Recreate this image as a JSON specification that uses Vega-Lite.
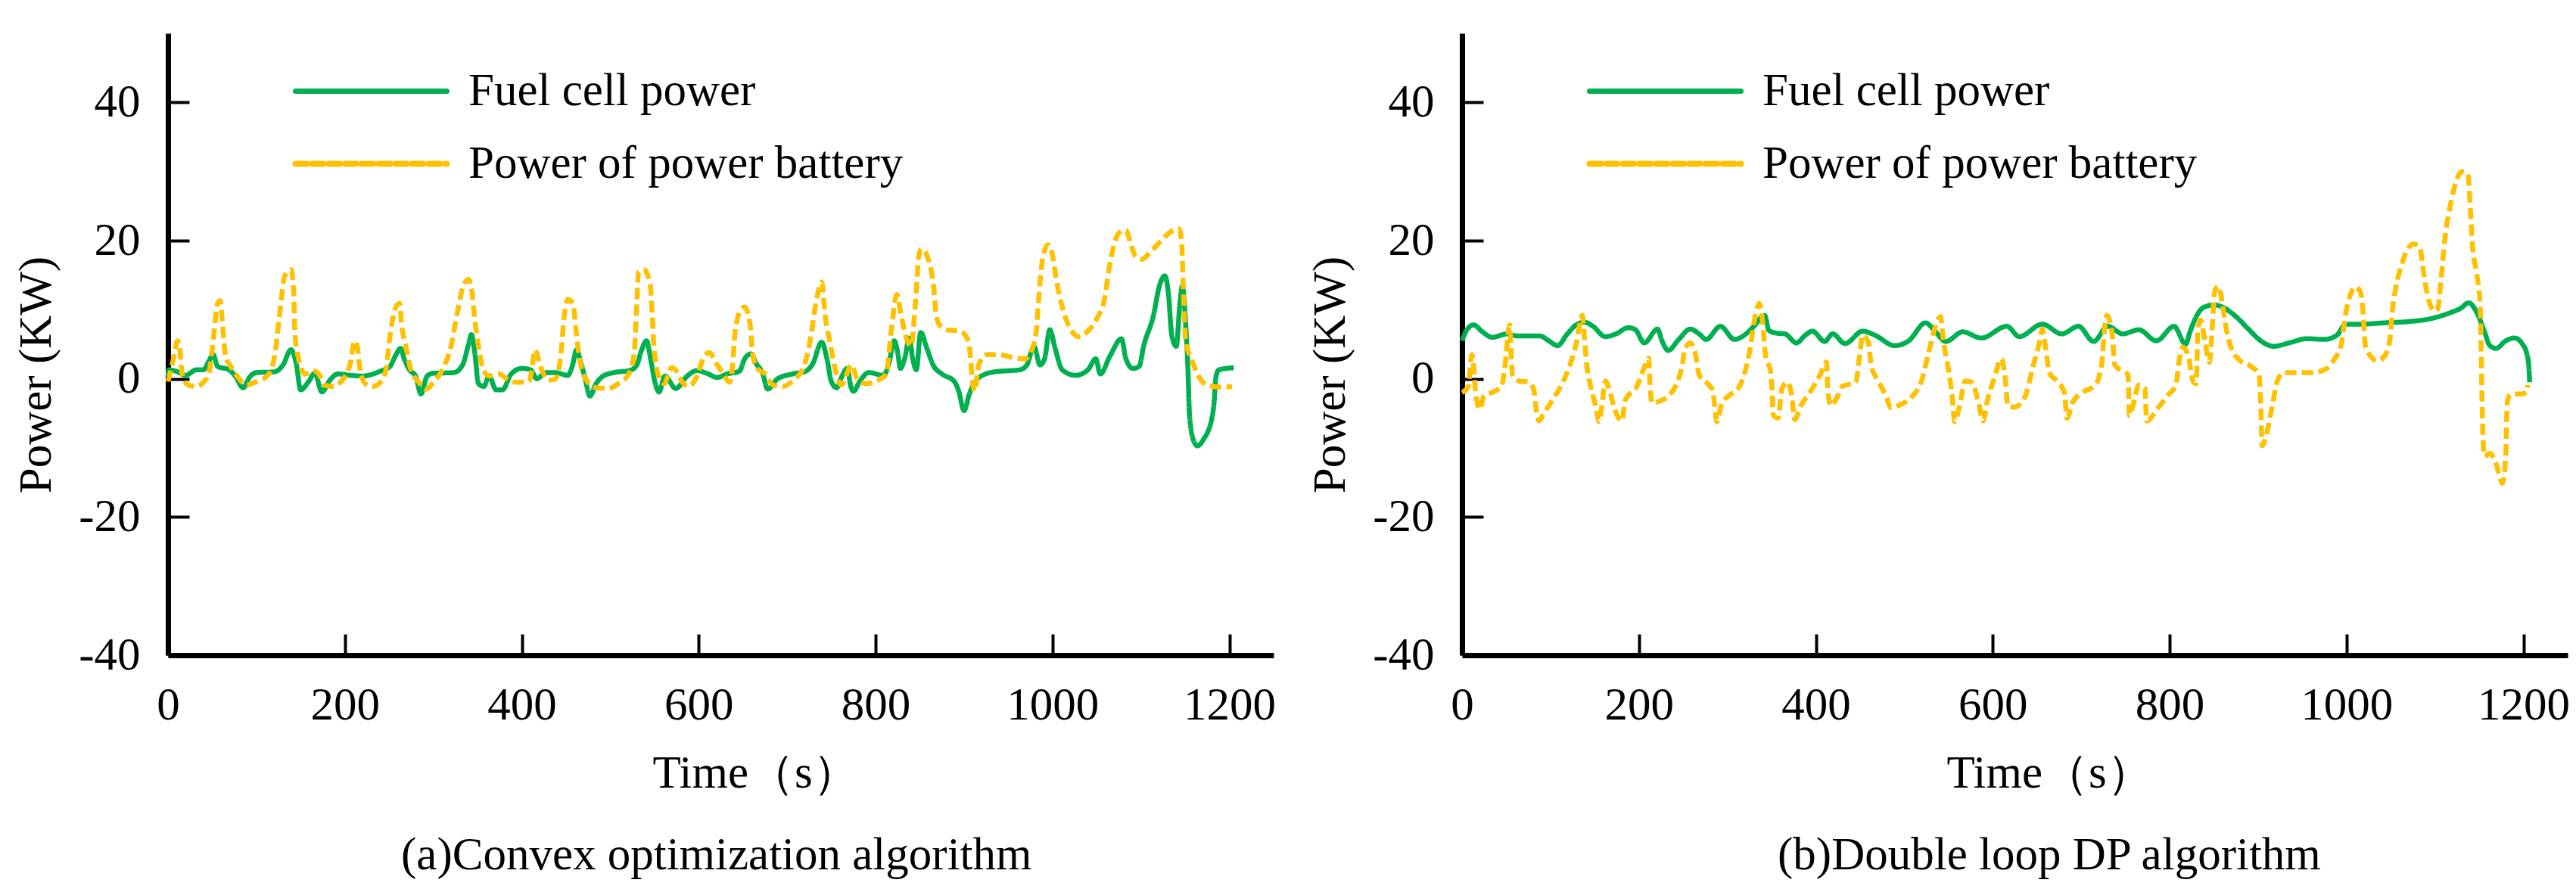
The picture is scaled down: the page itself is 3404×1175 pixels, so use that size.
{
  "$schema": "https://vega.github.io/schema/vega-lite/v6.json",
  "padding": {"left": 17, "top": 44, "right": 5, "bottom": 5},
  "background": "white",
  "spacing": 41,
  "datasets": {
    "a": [
      {"s": "Fuel cell power", "t": 0, "p": 0.4}, {"s": "Fuel cell power", "t": 1, "p": 1.3}, {"s": "Fuel cell power", "t": 9, "p": 1.1}, {"s": "Fuel cell power", "t": 20, "p": 0.5}, {"s": "Fuel cell power", "t": 32, "p": 1.3}, {"s": "Fuel cell power", "t": 40, "p": 1.3}, {"s": "Fuel cell power", "t": 46, "p": 2.5}, {"s": "Fuel cell power", "t": 51, "p": 3.5}, {"s": "Fuel cell power", "t": 56, "p": 1.8}, {"s": "Fuel cell power", "t": 69, "p": 1.3}, {"s": "Fuel cell power", "t": 76, "p": 0.4}, {"s": "Fuel cell power", "t": 85, "p": -1.3}, {"s": "Fuel cell power", "t": 92, "p": 0.2}, {"s": "Fuel cell power", "t": 100, "p": 0.9}, {"s": "Fuel cell power", "t": 120, "p": 1.0}, {"s": "Fuel cell power", "t": 130, "p": 2.0}, {"s": "Fuel cell power", "t": 139, "p": 4.2}, {"s": "Fuel cell power", "t": 145, "p": 2.2}, {"s": "Fuel cell power", "t": 150, "p": -1.6}, {"s": "Fuel cell power", "t": 159, "p": -0.4}, {"s": "Fuel cell power", "t": 166, "p": 0.8}, {"s": "Fuel cell power", "t": 174, "p": -1.9}, {"s": "Fuel cell power", "t": 183, "p": -0.2}, {"s": "Fuel cell power", "t": 192, "p": 0.7}, {"s": "Fuel cell power", "t": 206, "p": 0.5}, {"s": "Fuel cell power", "t": 220, "p": 0.4}, {"s": "Fuel cell power", "t": 240, "p": 1.1}, {"s": "Fuel cell power", "t": 251, "p": 1.8}, {"s": "Fuel cell power", "t": 257, "p": 3.3}, {"s": "Fuel cell power", "t": 263, "p": 4.4}, {"s": "Fuel cell power", "t": 267, "p": 2.9}, {"s": "Fuel cell power", "t": 273, "p": 1.3}, {"s": "Fuel cell power", "t": 280, "p": 0.4}, {"s": "Fuel cell power", "t": 286, "p": -2.2}, {"s": "Fuel cell power", "t": 293, "p": 0.4}, {"s": "Fuel cell power", "t": 300, "p": 0.8}, {"s": "Fuel cell power", "t": 323, "p": 0.9}, {"s": "Fuel cell power", "t": 333, "p": 2.0}, {"s": "Fuel cell power", "t": 340, "p": 5.1}, {"s": "Fuel cell power", "t": 343, "p": 6.4}, {"s": "Fuel cell power", "t": 347, "p": 3.6}, {"s": "Fuel cell power", "t": 351, "p": -0.7}, {"s": "Fuel cell power", "t": 357, "p": -1.1}, {"s": "Fuel cell power", "t": 363, "p": 0.4}, {"s": "Fuel cell power", "t": 371, "p": -1.6}, {"s": "Fuel cell power", "t": 378, "p": -1.6}, {"s": "Fuel cell power", "t": 388, "p": 0.7}, {"s": "Fuel cell power", "t": 400, "p": 1.5}, {"s": "Fuel cell power", "t": 410, "p": 1.3}, {"s": "Fuel cell power", "t": 417, "p": 0}, {"s": "Fuel cell power", "t": 427, "p": 0.9}, {"s": "Fuel cell power", "t": 438, "p": 0.9}, {"s": "Fuel cell power", "t": 452, "p": 0.5}, {"s": "Fuel cell power", "t": 457, "p": 1.8}, {"s": "Fuel cell power", "t": 462, "p": 4.2}, {"s": "Fuel cell power", "t": 467, "p": 2.2}, {"s": "Fuel cell power", "t": 471, "p": 0.4}, {"s": "Fuel cell power", "t": 477, "p": -2.5}, {"s": "Fuel cell power", "t": 484, "p": -0.7}, {"s": "Fuel cell power", "t": 492, "p": 0.4}, {"s": "Fuel cell power", "t": 504, "p": 0.9}, {"s": "Fuel cell power", "t": 522, "p": 1.2}, {"s": "Fuel cell power", "t": 530, "p": 2.0}, {"s": "Fuel cell power", "t": 535, "p": 4.0}, {"s": "Fuel cell power", "t": 541, "p": 5.5}, {"s": "Fuel cell power", "t": 546, "p": 2.6}, {"s": "Fuel cell power", "t": 551, "p": -0.7}, {"s": "Fuel cell power", "t": 555, "p": -1.9}, {"s": "Fuel cell power", "t": 562, "p": 0.4}, {"s": "Fuel cell power", "t": 574, "p": -1.4}, {"s": "Fuel cell power", "t": 587, "p": 0.4}, {"s": "Fuel cell power", "t": 598, "p": 1.2}, {"s": "Fuel cell power", "t": 609, "p": 0.8}, {"s": "Fuel cell power", "t": 621, "p": 0.2}, {"s": "Fuel cell power", "t": 632, "p": 0.7}, {"s": "Fuel cell power", "t": 646, "p": 1.1}, {"s": "Fuel cell power", "t": 652, "p": 2.9}, {"s": "Fuel cell power", "t": 659, "p": 3.6}, {"s": "Fuel cell power", "t": 665, "p": 2.2}, {"s": "Fuel cell power", "t": 672, "p": 0.9}, {"s": "Fuel cell power", "t": 678, "p": -1.5}, {"s": "Fuel cell power", "t": 689, "p": 0}, {"s": "Fuel cell power", "t": 706, "p": 0.7}, {"s": "Fuel cell power", "t": 721, "p": 1.1}, {"s": "Fuel cell power", "t": 729, "p": 2.2}, {"s": "Fuel cell power", "t": 739, "p": 5.3}, {"s": "Fuel cell power", "t": 745, "p": 2.9}, {"s": "Fuel cell power", "t": 750, "p": -0.4}, {"s": "Fuel cell power", "t": 756, "p": -1.3}, {"s": "Fuel cell power", "t": 762, "p": 0.4}, {"s": "Fuel cell power", "t": 768, "p": 1.5}, {"s": "Fuel cell power", "t": 772, "p": -1.1}, {"s": "Fuel cell power", "t": 775, "p": -1.8}, {"s": "Fuel cell power", "t": 782, "p": -0.4}, {"s": "Fuel cell power", "t": 792, "p": 0.9}, {"s": "Fuel cell power", "t": 809, "p": 0.5}, {"s": "Fuel cell power", "t": 815, "p": 2.2}, {"s": "Fuel cell power", "t": 821, "p": 5.5}, {"s": "Fuel cell power", "t": 825, "p": 3.8}, {"s": "Fuel cell power", "t": 828, "p": 1.5}, {"s": "Fuel cell power", "t": 833, "p": 3.0}, {"s": "Fuel cell power", "t": 838, "p": 5.9}, {"s": "Fuel cell power", "t": 842, "p": 2.9}, {"s": "Fuel cell power", "t": 846, "p": 1.3}, {"s": "Fuel cell power", "t": 851, "p": 6.7}, {"s": "Fuel cell power", "t": 858, "p": 4.4}, {"s": "Fuel cell power", "t": 865, "p": 2.0}, {"s": "Fuel cell power", "t": 875, "p": 0.7}, {"s": "Fuel cell power", "t": 889, "p": -0.4}, {"s": "Fuel cell power", "t": 894, "p": -1.8}, {"s": "Fuel cell power", "t": 900, "p": -4.6}, {"s": "Fuel cell power", "t": 906, "p": -2.2}, {"s": "Fuel cell power", "t": 917, "p": 0.2}, {"s": "Fuel cell power", "t": 934, "p": 1.0}, {"s": "Fuel cell power", "t": 963, "p": 1.3}, {"s": "Fuel cell power", "t": 971, "p": 2.0}, {"s": "Fuel cell power", "t": 979, "p": 4.7}, {"s": "Fuel cell power", "t": 986, "p": 2.0}, {"s": "Fuel cell power", "t": 991, "p": 2.9}, {"s": "Fuel cell power", "t": 997, "p": 7.1}, {"s": "Fuel cell power", "t": 1003, "p": 4.4}, {"s": "Fuel cell power", "t": 1011, "p": 1.3}, {"s": "Fuel cell power", "t": 1026, "p": 0.5}, {"s": "Fuel cell power", "t": 1040, "p": 1.3}, {"s": "Fuel cell power", "t": 1049, "p": 2.9}, {"s": "Fuel cell power", "t": 1054, "p": 0.7}, {"s": "Fuel cell power", "t": 1065, "p": 3.3}, {"s": "Fuel cell power", "t": 1078, "p": 5.8}, {"s": "Fuel cell power", "t": 1083, "p": 2.9}, {"s": "Fuel cell power", "t": 1091, "p": 1.5}, {"s": "Fuel cell power", "t": 1098, "p": 1.8}, {"s": "Fuel cell power", "t": 1103, "p": 4.7}, {"s": "Fuel cell power", "t": 1114, "p": 9.1}, {"s": "Fuel cell power", "t": 1121, "p": 13.5}, {"s": "Fuel cell power", "t": 1127, "p": 14.9}, {"s": "Fuel cell power", "t": 1131, "p": 12.4}, {"s": "Fuel cell power", "t": 1135, "p": 6.2}, {"s": "Fuel cell power", "t": 1140, "p": 4.7}, {"s": "Fuel cell power", "t": 1144, "p": 10.9}, {"s": "Fuel cell power", "t": 1147, "p": 13.5}, {"s": "Fuel cell power", "t": 1150, "p": 9.1}, {"s": "Fuel cell power", "t": 1153, "p": 1.8}, {"s": "Fuel cell power", "t": 1155, "p": -5.5}, {"s": "Fuel cell power", "t": 1160, "p": -9.1}, {"s": "Fuel cell power", "t": 1164, "p": -9.7}, {"s": "Fuel cell power", "t": 1171, "p": -8.7}, {"s": "Fuel cell power", "t": 1180, "p": -5.8}, {"s": "Fuel cell power", "t": 1183, "p": -2.9}, {"s": "Fuel cell power", "t": 1184.5, "p": 0}, {"s": "Fuel cell power", "t": 1188, "p": 1.3}, {"s": "Fuel cell power", "t": 1205, "p": 1.6},
      {"s": "Power of power battery", "t": 0, "p": -0.4}, {"s": "Power of power battery", "t": 5, "p": 2.2}, {"s": "Power of power battery", "t": 11, "p": 5.5}, {"s": "Power of power battery", "t": 13, "p": 4.7}, {"s": "Power of power battery", "t": 16, "p": 0.7}, {"s": "Power of power battery", "t": 23, "p": -0.9}, {"s": "Power of power battery", "t": 32, "p": -1.1}, {"s": "Power of power battery", "t": 40, "p": -0.5}, {"s": "Power of power battery", "t": 46, "p": 0.7}, {"s": "Power of power battery", "t": 52, "p": 6.6}, {"s": "Power of power battery", "t": 56, "p": 10.9}, {"s": "Power of power battery", "t": 59, "p": 11.3}, {"s": "Power of power battery", "t": 62, "p": 7.3}, {"s": "Power of power battery", "t": 65, "p": 3.3}, {"s": "Power of power battery", "t": 70, "p": 2.0}, {"s": "Power of power battery", "t": 78, "p": 0.4}, {"s": "Power of power battery", "t": 89, "p": -0.9}, {"s": "Power of power battery", "t": 98, "p": -0.5}, {"s": "Power of power battery", "t": 112, "p": 0.4}, {"s": "Power of power battery", "t": 120, "p": 2.9}, {"s": "Power of power battery", "t": 126, "p": 9.1}, {"s": "Power of power battery", "t": 132, "p": 14.9}, {"s": "Power of power battery", "t": 139, "p": 15.8}, {"s": "Power of power battery", "t": 142, "p": 12.8}, {"s": "Power of power battery", "t": 143.5, "p": 6.6}, {"s": "Power of power battery", "t": 147, "p": 3.3}, {"s": "Power of power battery", "t": 155, "p": 0.7}, {"s": "Power of power battery", "t": 166, "p": 1.1}, {"s": "Power of power battery", "t": 172, "p": 0.4}, {"s": "Power of power battery", "t": 177, "p": -0.9}, {"s": "Power of power battery", "t": 186, "p": -1.1}, {"s": "Power of power battery", "t": 197, "p": -0.2}, {"s": "Power of power battery", "t": 206, "p": 2.2}, {"s": "Power of power battery", "t": 211, "p": 5.5}, {"s": "Power of power battery", "t": 214, "p": 4.7}, {"s": "Power of power battery", "t": 217, "p": 1.5}, {"s": "Power of power battery", "t": 223, "p": -0.7}, {"s": "Power of power battery", "t": 232, "p": -1.1}, {"s": "Power of power battery", "t": 240, "p": -0.5}, {"s": "Power of power battery", "t": 246, "p": 1.1}, {"s": "Power of power battery", "t": 251, "p": 6.2}, {"s": "Power of power battery", "t": 257, "p": 10.2}, {"s": "Power of power battery", "t": 262, "p": 10.9}, {"s": "Power of power battery", "t": 264, "p": 8.0}, {"s": "Power of power battery", "t": 269, "p": 4.7}, {"s": "Power of power battery", "t": 274, "p": 1.6}, {"s": "Power of power battery", "t": 283, "p": -0.4}, {"s": "Power of power battery", "t": 292, "p": -1.5}, {"s": "Power of power battery", "t": 300, "p": -0.5}, {"s": "Power of power battery", "t": 311, "p": 1.5}, {"s": "Power of power battery", "t": 320, "p": 4.7}, {"s": "Power of power battery", "t": 327, "p": 9.5}, {"s": "Power of power battery", "t": 334, "p": 13.5}, {"s": "Power of power battery", "t": 340, "p": 14.4}, {"s": "Power of power battery", "t": 343, "p": 13.1}, {"s": "Power of power battery", "t": 347, "p": 8.4}, {"s": "Power of power battery", "t": 351, "p": 4.7}, {"s": "Power of power battery", "t": 356, "p": 1.5}, {"s": "Power of power battery", "t": 363, "p": 0.4}, {"s": "Power of power battery", "t": 374, "p": 0.7}, {"s": "Power of power battery", "t": 383, "p": 0}, {"s": "Power of power battery", "t": 394, "p": -0.5}, {"s": "Power of power battery", "t": 408, "p": -0.4}, {"s": "Power of power battery", "t": 411, "p": 1.0}, {"s": "Power of power battery", "t": 415, "p": 4.2}, {"s": "Power of power battery", "t": 421, "p": 1.8}, {"s": "Power of power battery", "t": 430, "p": -0.2}, {"s": "Power of power battery", "t": 438, "p": 0}, {"s": "Power of power battery", "t": 444, "p": 3.3}, {"s": "Power of power battery", "t": 448, "p": 9.1}, {"s": "Power of power battery", "t": 452, "p": 11.5}, {"s": "Power of power battery", "t": 458, "p": 10.9}, {"s": "Power of power battery", "t": 461, "p": 7.3}, {"s": "Power of power battery", "t": 464, "p": 4.0}, {"s": "Power of power battery", "t": 472, "p": 0}, {"s": "Power of power battery", "t": 484, "p": -1.3}, {"s": "Power of power battery", "t": 498, "p": -1.4}, {"s": "Power of power battery", "t": 509, "p": -0.7}, {"s": "Power of power battery", "t": 521, "p": 0.7}, {"s": "Power of power battery", "t": 527, "p": 3.6}, {"s": "Power of power battery", "t": 530, "p": 10.9}, {"s": "Power of power battery", "t": 532, "p": 15.5}, {"s": "Power of power battery", "t": 538, "p": 15.8}, {"s": "Power of power battery", "t": 545, "p": 13.8}, {"s": "Power of power battery", "t": 547.5, "p": 9.1}, {"s": "Power of power battery", "t": 549, "p": 5.5}, {"s": "Power of power battery", "t": 554, "p": 0.7}, {"s": "Power of power battery", "t": 561, "p": -0.7}, {"s": "Power of power battery", "t": 569, "p": 1.6}, {"s": "Power of power battery", "t": 575, "p": 1.1}, {"s": "Power of power battery", "t": 581, "p": -0.4}, {"s": "Power of power battery", "t": 589, "p": -1.1}, {"s": "Power of power battery", "t": 598, "p": 0.4}, {"s": "Power of power battery", "t": 605, "p": 2.9}, {"s": "Power of power battery", "t": 612, "p": 3.8}, {"s": "Power of power battery", "t": 621, "p": 2.0}, {"s": "Power of power battery", "t": 628, "p": 0.7}, {"s": "Power of power battery", "t": 635, "p": -0.5}, {"s": "Power of power battery", "t": 638, "p": 1.5}, {"s": "Power of power battery", "t": 641, "p": 6.6}, {"s": "Power of power battery", "t": 647, "p": 9.8}, {"s": "Power of power battery", "t": 652, "p": 10.4}, {"s": "Power of power battery", "t": 658, "p": 8.0}, {"s": "Power of power battery", "t": 661, "p": 3.6}, {"s": "Power of power battery", "t": 666, "p": 1.5}, {"s": "Power of power battery", "t": 675, "p": 0.7}, {"s": "Power of power battery", "t": 684, "p": -0.9}, {"s": "Power of power battery", "t": 695, "p": -1.1}, {"s": "Power of power battery", "t": 707, "p": -0.2}, {"s": "Power of power battery", "t": 718, "p": 1.5}, {"s": "Power of power battery", "t": 726, "p": 5.5}, {"s": "Power of power battery", "t": 733, "p": 11.3}, {"s": "Power of power battery", "t": 739, "p": 14.0}, {"s": "Power of power battery", "t": 743, "p": 9.1}, {"s": "Power of power battery", "t": 748, "p": 5.5}, {"s": "Power of power battery", "t": 755, "p": 1.1}, {"s": "Power of power battery", "t": 761, "p": -0.9}, {"s": "Power of power battery", "t": 773, "p": 2.0}, {"s": "Power of power battery", "t": 779, "p": 0}, {"s": "Power of power battery", "t": 789, "p": -0.7}, {"s": "Power of power battery", "t": 803, "p": -0.2}, {"s": "Power of power battery", "t": 812, "p": 0.7}, {"s": "Power of power battery", "t": 818, "p": 7.3}, {"s": "Power of power battery", "t": 824, "p": 12.2}, {"s": "Power of power battery", "t": 829, "p": 9.1}, {"s": "Power of power battery", "t": 835, "p": 5.8}, {"s": "Power of power battery", "t": 840, "p": 4.7}, {"s": "Power of power battery", "t": 845, "p": 10.9}, {"s": "Power of power battery", "t": 849, "p": 17.9}, {"s": "Power of power battery", "t": 852, "p": 18.8}, {"s": "Power of power battery", "t": 860, "p": 17.1}, {"s": "Power of power battery", "t": 866, "p": 12.8}, {"s": "Power of power battery", "t": 868, "p": 9.8}, {"s": "Power of power battery", "t": 872, "p": 7.8}, {"s": "Power of power battery", "t": 880, "p": 7.1}, {"s": "Power of power battery", "t": 895, "p": 6.9}, {"s": "Power of power battery", "t": 903, "p": 6.0}, {"s": "Power of power battery", "t": 907, "p": 3.6}, {"s": "Power of power battery", "t": 909, "p": 0.4}, {"s": "Power of power battery", "t": 912, "p": -1.8}, {"s": "Power of power battery", "t": 917, "p": 2.2}, {"s": "Power of power battery", "t": 926, "p": 3.5}, {"s": "Power of power battery", "t": 940, "p": 3.5}, {"s": "Power of power battery", "t": 954, "p": 3.1}, {"s": "Power of power battery", "t": 969, "p": 2.9}, {"s": "Power of power battery", "t": 976, "p": 4.0}, {"s": "Power of power battery", "t": 982, "p": 7.3}, {"s": "Power of power battery", "t": 984, "p": 10.9}, {"s": "Power of power battery", "t": 989, "p": 17.5}, {"s": "Power of power battery", "t": 995, "p": 19.4}, {"s": "Power of power battery", "t": 1000, "p": 17.9}, {"s": "Power of power battery", "t": 1004, "p": 14.6}, {"s": "Power of power battery", "t": 1010, "p": 10.9}, {"s": "Power of power battery", "t": 1016, "p": 8.4}, {"s": "Power of power battery", "t": 1023, "p": 6.7}, {"s": "Power of power battery", "t": 1030, "p": 6.1}, {"s": "Power of power battery", "t": 1040, "p": 6.9}, {"s": "Power of power battery", "t": 1050, "p": 8.7}, {"s": "Power of power battery", "t": 1059, "p": 11.7}, {"s": "Power of power battery", "t": 1064, "p": 16.0}, {"s": "Power of power battery", "t": 1069, "p": 19.1}, {"s": "Power of power battery", "t": 1075, "p": 21.1}, {"s": "Power of power battery", "t": 1083, "p": 21.5}, {"s": "Power of power battery", "t": 1088, "p": 19.7}, {"s": "Power of power battery", "t": 1094, "p": 17.7}, {"s": "Power of power battery", "t": 1101, "p": 17.3}, {"s": "Power of power battery", "t": 1111, "p": 18.4}, {"s": "Power of power battery", "t": 1123, "p": 20.0}, {"s": "Power of power battery", "t": 1134, "p": 21.3}, {"s": "Power of power battery", "t": 1143, "p": 21.7}, {"s": "Power of power battery", "t": 1146, "p": 19.7}, {"s": "Power of power battery", "t": 1147.5, "p": 14.6}, {"s": "Power of power battery", "t": 1149, "p": 9.1}, {"s": "Power of power battery", "t": 1151, "p": 5.1}, {"s": "Power of power battery", "t": 1157, "p": 2.9}, {"s": "Power of power battery", "t": 1165, "p": 0.4}, {"s": "Power of power battery", "t": 1177, "p": -1.0}, {"s": "Power of power battery", "t": 1191, "p": -1.2}, {"s": "Power of power battery", "t": 1203, "p": -1.1}
    ],
    "b": [
      {"s": "Fuel cell power", "t": 0, "p": 5.5}, {"s": "Fuel cell power", "t": 5, "p": 7.0}, {"s": "Fuel cell power", "t": 13, "p": 7.8}, {"s": "Fuel cell power", "t": 23, "p": 6.8}, {"s": "Fuel cell power", "t": 34, "p": 6.0}, {"s": "Fuel cell power", "t": 51, "p": 6.5}, {"s": "Fuel cell power", "t": 62, "p": 6.2}, {"s": "Fuel cell power", "t": 88, "p": 6.2}, {"s": "Fuel cell power", "t": 98, "p": 5.5}, {"s": "Fuel cell power", "t": 108, "p": 4.8}, {"s": "Fuel cell power", "t": 119, "p": 6.5}, {"s": "Fuel cell power", "t": 129, "p": 7.8}, {"s": "Fuel cell power", "t": 138, "p": 8.2}, {"s": "Fuel cell power", "t": 148, "p": 7.6}, {"s": "Fuel cell power", "t": 162, "p": 6.1}, {"s": "Fuel cell power", "t": 174, "p": 6.5}, {"s": "Fuel cell power", "t": 188, "p": 7.4}, {"s": "Fuel cell power", "t": 196, "p": 7.1}, {"s": "Fuel cell power", "t": 206, "p": 5.2}, {"s": "Fuel cell power", "t": 221, "p": 7.2}, {"s": "Fuel cell power", "t": 226, "p": 5.5}, {"s": "Fuel cell power", "t": 233, "p": 4.1}, {"s": "Fuel cell power", "t": 245, "p": 5.7}, {"s": "Fuel cell power", "t": 258, "p": 7.2}, {"s": "Fuel cell power", "t": 268, "p": 6.5}, {"s": "Fuel cell power", "t": 276, "p": 5.7}, {"s": "Fuel cell power", "t": 292, "p": 7.6}, {"s": "Fuel cell power", "t": 308, "p": 5.7}, {"s": "Fuel cell power", "t": 319, "p": 6.3}, {"s": "Fuel cell power", "t": 330, "p": 7.6}, {"s": "Fuel cell power", "t": 342, "p": 9.2}, {"s": "Fuel cell power", "t": 347, "p": 7.0}, {"s": "Fuel cell power", "t": 356, "p": 6.6}, {"s": "Fuel cell power", "t": 365, "p": 6.5}, {"s": "Fuel cell power", "t": 378, "p": 5.2}, {"s": "Fuel cell power", "t": 388, "p": 6.3}, {"s": "Fuel cell power", "t": 396, "p": 6.9}, {"s": "Fuel cell power", "t": 410, "p": 5.4}, {"s": "Fuel cell power", "t": 419, "p": 6.5}, {"s": "Fuel cell power", "t": 433, "p": 5.1}, {"s": "Fuel cell power", "t": 453, "p": 6.9}, {"s": "Fuel cell power", "t": 467, "p": 6.3}, {"s": "Fuel cell power", "t": 489, "p": 4.8}, {"s": "Fuel cell power", "t": 505, "p": 5.5}, {"s": "Fuel cell power", "t": 524, "p": 8.1}, {"s": "Fuel cell power", "t": 534, "p": 7.0}, {"s": "Fuel cell power", "t": 547, "p": 5.4}, {"s": "Fuel cell power", "t": 566, "p": 6.8}, {"s": "Fuel cell power", "t": 587, "p": 5.9}, {"s": "Fuel cell power", "t": 616, "p": 7.6}, {"s": "Fuel cell power", "t": 630, "p": 6.1}, {"s": "Fuel cell power", "t": 656, "p": 7.9}, {"s": "Fuel cell power", "t": 678, "p": 6.5}, {"s": "Fuel cell power", "t": 697, "p": 7.6}, {"s": "Fuel cell power", "t": 714, "p": 5.4}, {"s": "Fuel cell power", "t": 730, "p": 7.6}, {"s": "Fuel cell power", "t": 747, "p": 6.5}, {"s": "Fuel cell power", "t": 765, "p": 7.1}, {"s": "Fuel cell power", "t": 785, "p": 5.5}, {"s": "Fuel cell power", "t": 805, "p": 7.6}, {"s": "Fuel cell power", "t": 818, "p": 5.0}, {"s": "Fuel cell power", "t": 823, "p": 6.8}, {"s": "Fuel cell power", "t": 830, "p": 9.0}, {"s": "Fuel cell power", "t": 838, "p": 10.3}, {"s": "Fuel cell power", "t": 850, "p": 10.7}, {"s": "Fuel cell power", "t": 861, "p": 10.3}, {"s": "Fuel cell power", "t": 875, "p": 9.0}, {"s": "Fuel cell power", "t": 889, "p": 7.2}, {"s": "Fuel cell power", "t": 904, "p": 5.4}, {"s": "Fuel cell power", "t": 918, "p": 4.7}, {"s": "Fuel cell power", "t": 935, "p": 5.2}, {"s": "Fuel cell power", "t": 955, "p": 5.8}, {"s": "Fuel cell power", "t": 975, "p": 5.7}, {"s": "Fuel cell power", "t": 989, "p": 6.3}, {"s": "Fuel cell power", "t": 999, "p": 7.9}, {"s": "Fuel cell power", "t": 1015, "p": 7.9}, {"s": "Fuel cell power", "t": 1043, "p": 8.1}, {"s": "Fuel cell power", "t": 1072, "p": 8.3}, {"s": "Fuel cell power", "t": 1095, "p": 8.7}, {"s": "Fuel cell power", "t": 1118, "p": 9.6}, {"s": "Fuel cell power", "t": 1129, "p": 10.2}, {"s": "Fuel cell power", "t": 1138, "p": 11.0}, {"s": "Fuel cell power", "t": 1148, "p": 9.4}, {"s": "Fuel cell power", "t": 1156, "p": 6.8}, {"s": "Fuel cell power", "t": 1162, "p": 4.8}, {"s": "Fuel cell power", "t": 1169, "p": 4.4}, {"s": "Fuel cell power", "t": 1180, "p": 5.5}, {"s": "Fuel cell power", "t": 1190, "p": 5.9}, {"s": "Fuel cell power", "t": 1199, "p": 5.0}, {"s": "Fuel cell power", "t": 1204, "p": 3.5}, {"s": "Fuel cell power", "t": 1206, "p": 2.0}, {"s": "Fuel cell power", "t": 1207, "p": -0.5},
      {"s": "Power of power battery", "t": 0, "p": -2.0}, {"s": "Power of power battery", "t": 7, "p": -1.1}, {"s": "Power of power battery", "t": 11, "p": 3.5}, {"s": "Power of power battery", "t": 13, "p": 2.0}, {"s": "Power of power battery", "t": 15, "p": -1.6}, {"s": "Power of power battery", "t": 20, "p": -4.4}, {"s": "Power of power battery", "t": 25, "p": -2.4}, {"s": "Power of power battery", "t": 37, "p": -1.8}, {"s": "Power of power battery", "t": 45, "p": -0.9}, {"s": "Power of power battery", "t": 48, "p": 1.3}, {"s": "Power of power battery", "t": 54, "p": 7.8}, {"s": "Power of power battery", "t": 55.5, "p": 3.5}, {"s": "Power of power battery", "t": 57, "p": 0.6}, {"s": "Power of power battery", "t": 64, "p": -0.3}, {"s": "Power of power battery", "t": 75, "p": -0.5}, {"s": "Power of power battery", "t": 81, "p": -1.5}, {"s": "Power of power battery", "t": 84, "p": -4.6}, {"s": "Power of power battery", "t": 87, "p": -6.1}, {"s": "Power of power battery", "t": 92, "p": -5.1}, {"s": "Power of power battery", "t": 102, "p": -3.1}, {"s": "Power of power battery", "t": 114, "p": -0.5}, {"s": "Power of power battery", "t": 122, "p": 2.0}, {"s": "Power of power battery", "t": 129, "p": 5.0}, {"s": "Power of power battery", "t": 136, "p": 9.2}, {"s": "Power of power battery", "t": 138, "p": 6.5}, {"s": "Power of power battery", "t": 141, "p": 2.0}, {"s": "Power of power battery", "t": 145, "p": -0.9}, {"s": "Power of power battery", "t": 151, "p": -3.9}, {"s": "Power of power battery", "t": 155, "p": -6.2}, {"s": "Power of power battery", "t": 158, "p": -3.9}, {"s": "Power of power battery", "t": 162, "p": -0.3}, {"s": "Power of power battery", "t": 166, "p": -1.3}, {"s": "Power of power battery", "t": 172, "p": -4.2}, {"s": "Power of power battery", "t": 181, "p": -6.1}, {"s": "Power of power battery", "t": 184, "p": -3.3}, {"s": "Power of power battery", "t": 188, "p": -2.4}, {"s": "Power of power battery", "t": 196, "p": -1.5}, {"s": "Power of power battery", "t": 205, "p": 1.3}, {"s": "Power of power battery", "t": 211, "p": 3.0}, {"s": "Power of power battery", "t": 212.5, "p": -0.9}, {"s": "Power of power battery", "t": 215, "p": -3.5}, {"s": "Power of power battery", "t": 222, "p": -3.3}, {"s": "Power of power battery", "t": 234, "p": -2.4}, {"s": "Power of power battery", "t": 242, "p": -0.9}, {"s": "Power of power battery", "t": 249, "p": 2.0}, {"s": "Power of power battery", "t": 252, "p": 4.3}, {"s": "Power of power battery", "t": 258, "p": 5.2}, {"s": "Power of power battery", "t": 264, "p": 3.5}, {"s": "Power of power battery", "t": 268, "p": 0.6}, {"s": "Power of power battery", "t": 276, "p": -0.5}, {"s": "Power of power battery", "t": 283, "p": -1.6}, {"s": "Power of power battery", "t": 286, "p": -4.2}, {"s": "Power of power battery", "t": 288, "p": -6.2}, {"s": "Power of power battery", "t": 293, "p": -3.9}, {"s": "Power of power battery", "t": 302, "p": -2.4}, {"s": "Power of power battery", "t": 311, "p": -1.6}, {"s": "Power of power battery", "t": 319, "p": 0.6}, {"s": "Power of power battery", "t": 325, "p": 3.9}, {"s": "Power of power battery", "t": 332, "p": 9.4}, {"s": "Power of power battery", "t": 336, "p": 10.9}, {"s": "Power of power battery", "t": 340, "p": 7.9}, {"s": "Power of power battery", "t": 343, "p": 3.5}, {"s": "Power of power battery", "t": 349, "p": 0.9}, {"s": "Power of power battery", "t": 350.5, "p": -1.6}, {"s": "Power of power battery", "t": 352, "p": -5.3}, {"s": "Power of power battery", "t": 357, "p": -5.7}, {"s": "Power of power battery", "t": 362, "p": -1.3}, {"s": "Power of power battery", "t": 368, "p": -0.5}, {"s": "Power of power battery", "t": 373, "p": -2.7}, {"s": "Power of power battery", "t": 376, "p": -5.9}, {"s": "Power of power battery", "t": 383, "p": -3.9}, {"s": "Power of power battery", "t": 393, "p": -2.0}, {"s": "Power of power battery", "t": 405, "p": 0.6}, {"s": "Power of power battery", "t": 412, "p": 2.4}, {"s": "Power of power battery", "t": 413.5, "p": -1.6}, {"s": "Power of power battery", "t": 417, "p": -3.9}, {"s": "Power of power battery", "t": 425, "p": -2.4}, {"s": "Power of power battery", "t": 430, "p": -1.1}, {"s": "Power of power battery", "t": 445, "p": -0.5}, {"s": "Power of power battery", "t": 449, "p": 2.8}, {"s": "Power of power battery", "t": 453, "p": 6.3}, {"s": "Power of power battery", "t": 459, "p": 5.4}, {"s": "Power of power battery", "t": 463, "p": 1.7}, {"s": "Power of power battery", "t": 470, "p": -0.2}, {"s": "Power of power battery", "t": 479, "p": -2.4}, {"s": "Power of power battery", "t": 485, "p": -4.2}, {"s": "Power of power battery", "t": 496, "p": -3.7}, {"s": "Power of power battery", "t": 510, "p": -2.4}, {"s": "Power of power battery", "t": 519, "p": -0.5}, {"s": "Power of power battery", "t": 527, "p": 3.5}, {"s": "Power of power battery", "t": 536, "p": 7.9}, {"s": "Power of power battery", "t": 541, "p": 9.0}, {"s": "Power of power battery", "t": 544, "p": 5.7}, {"s": "Power of power battery", "t": 550, "p": 1.3}, {"s": "Power of power battery", "t": 554, "p": -2.4}, {"s": "Power of power battery", "t": 557, "p": -6.2}, {"s": "Power of power battery", "t": 562, "p": -4.2}, {"s": "Power of power battery", "t": 569, "p": -0.3}, {"s": "Power of power battery", "t": 576, "p": -0.5}, {"s": "Power of power battery", "t": 584, "p": -3.5}, {"s": "Power of power battery", "t": 589, "p": -6.1}, {"s": "Power of power battery", "t": 594, "p": -3.1}, {"s": "Power of power battery", "t": 601, "p": -0.2}, {"s": "Power of power battery", "t": 610, "p": 2.9}, {"s": "Power of power battery", "t": 614, "p": 0.2}, {"s": "Power of power battery", "t": 617, "p": -3.9}, {"s": "Power of power battery", "t": 624, "p": -4.1}, {"s": "Power of power battery", "t": 636, "p": -2.7}, {"s": "Power of power battery", "t": 646, "p": 2.0}, {"s": "Power of power battery", "t": 653, "p": 5.4}, {"s": "Power of power battery", "t": 656, "p": 7.2}, {"s": "Power of power battery", "t": 660, "p": 4.3}, {"s": "Power of power battery", "t": 664, "p": 0.9}, {"s": "Power of power battery", "t": 674, "p": -0.5}, {"s": "Power of power battery", "t": 681, "p": -2.0}, {"s": "Power of power battery", "t": 684, "p": -5.7}, {"s": "Power of power battery", "t": 690, "p": -3.5}, {"s": "Power of power battery", "t": 701, "p": -2.0}, {"s": "Power of power battery", "t": 716, "p": -0.9}, {"s": "Power of power battery", "t": 723, "p": 2.0}, {"s": "Power of power battery", "t": 727, "p": 7.9}, {"s": "Power of power battery", "t": 729, "p": 9.2}, {"s": "Power of power battery", "t": 735, "p": 6.5}, {"s": "Power of power battery", "t": 738, "p": 2.0}, {"s": "Power of power battery", "t": 744, "p": 1.3}, {"s": "Power of power battery", "t": 753, "p": 0.6}, {"s": "Power of power battery", "t": 754.5, "p": -5.3}, {"s": "Power of power battery", "t": 760, "p": -3.1}, {"s": "Power of power battery", "t": 765, "p": -0.9}, {"s": "Power of power battery", "t": 772, "p": -1.3}, {"s": "Power of power battery", "t": 774, "p": -6.1}, {"s": "Power of power battery", "t": 787, "p": -4.2}, {"s": "Power of power battery", "t": 798, "p": -2.4}, {"s": "Power of power battery", "t": 807, "p": -0.9}, {"s": "Power of power battery", "t": 811, "p": 2.8}, {"s": "Power of power battery", "t": 815, "p": 4.6}, {"s": "Power of power battery", "t": 821, "p": 3.3}, {"s": "Power of power battery", "t": 827, "p": -0.5}, {"s": "Power of power battery", "t": 830, "p": -0.7}, {"s": "Power of power battery", "t": 832, "p": 7.2}, {"s": "Power of power battery", "t": 835, "p": 8.5}, {"s": "Power of power battery", "t": 840, "p": 5.4}, {"s": "Power of power battery", "t": 845, "p": 2.4}, {"s": "Power of power battery", "t": 848, "p": 7.2}, {"s": "Power of power battery", "t": 851, "p": 12.7}, {"s": "Power of power battery", "t": 855, "p": 13.4}, {"s": "Power of power battery", "t": 860, "p": 10.5}, {"s": "Power of power battery", "t": 864, "p": 7.2}, {"s": "Power of power battery", "t": 870, "p": 4.3}, {"s": "Power of power battery", "t": 878, "p": 2.8}, {"s": "Power of power battery", "t": 892, "p": 1.8}, {"s": "Power of power battery", "t": 901, "p": 0.6}, {"s": "Power of power battery", "t": 903, "p": -4.0}, {"s": "Power of power battery", "t": 904.5, "p": -9.7}, {"s": "Power of power battery", "t": 909, "p": -8.3}, {"s": "Power of power battery", "t": 916, "p": -3.9}, {"s": "Power of power battery", "t": 922, "p": -0.2}, {"s": "Power of power battery", "t": 929, "p": 0.9}, {"s": "Power of power battery", "t": 944, "p": 0.9}, {"s": "Power of power battery", "t": 961, "p": 0.9}, {"s": "Power of power battery", "t": 975, "p": 1.3}, {"s": "Power of power battery", "t": 986, "p": 2.8}, {"s": "Power of power battery", "t": 994, "p": 5.0}, {"s": "Power of power battery", "t": 999, "p": 9.4}, {"s": "Power of power battery", "t": 1005, "p": 12.4}, {"s": "Power of power battery", "t": 1009, "p": 13.3}, {"s": "Power of power battery", "t": 1016, "p": 12.5}, {"s": "Power of power battery", "t": 1019, "p": 9.0}, {"s": "Power of power battery", "t": 1021, "p": 5.0}, {"s": "Power of power battery", "t": 1026, "p": 3.5}, {"s": "Power of power battery", "t": 1035, "p": 2.6}, {"s": "Power of power battery", "t": 1043, "p": 3.3}, {"s": "Power of power battery", "t": 1049, "p": 5.7}, {"s": "Power of power battery", "t": 1052, "p": 10.1}, {"s": "Power of power battery", "t": 1056, "p": 13.4}, {"s": "Power of power battery", "t": 1063, "p": 16.8}, {"s": "Power of power battery", "t": 1070, "p": 19.0}, {"s": "Power of power battery", "t": 1076, "p": 19.5}, {"s": "Power of power battery", "t": 1083, "p": 19.0}, {"s": "Power of power battery", "t": 1086, "p": 16.4}, {"s": "Power of power battery", "t": 1090, "p": 13.1}, {"s": "Power of power battery", "t": 1093, "p": 11.3}, {"s": "Power of power battery", "t": 1100, "p": 9.8}, {"s": "Power of power battery", "t": 1103, "p": 10.1}, {"s": "Power of power battery", "t": 1107, "p": 14.6}, {"s": "Power of power battery", "t": 1111, "p": 20.1}, {"s": "Power of power battery", "t": 1117, "p": 24.9}, {"s": "Power of power battery", "t": 1124, "p": 28.6}, {"s": "Power of power battery", "t": 1130, "p": 30.0}, {"s": "Power of power battery", "t": 1137, "p": 29.7}, {"s": "Power of power battery", "t": 1140, "p": 24.5}, {"s": "Power of power battery", "t": 1142, "p": 19.7}, {"s": "Power of power battery", "t": 1147, "p": 15.3}, {"s": "Power of power battery", "t": 1151, "p": 10.9}, {"s": "Power of power battery", "t": 1152, "p": 5.4}, {"s": "Power of power battery", "t": 1153, "p": -2.0}, {"s": "Power of power battery", "t": 1154, "p": -7.5}, {"s": "Power of power battery", "t": 1156, "p": -11.2}, {"s": "Power of power battery", "t": 1162, "p": -10.8}, {"s": "Power of power battery", "t": 1169, "p": -12.3}, {"s": "Power of power battery", "t": 1176, "p": -15.1}, {"s": "Power of power battery", "t": 1180, "p": -11.2}, {"s": "Power of power battery", "t": 1181, "p": -5.7}, {"s": "Power of power battery", "t": 1182, "p": -3.1}, {"s": "Power of power battery", "t": 1186, "p": -2.2}, {"s": "Power of power battery", "t": 1197, "p": -2.2}, {"s": "Power of power battery", "t": 1203, "p": -2.0}, {"s": "Power of power battery", "t": 1205, "p": -0.9}
    ]
  },
  "hconcat": [
    {
      "data": {"name": "a"},
      "width": 1461,
      "height": 822,
      "title": {"text": "(a)Convex optimization algorithm", "dx": 308},
      "mark": {"type": "line", "interpolate": "monotone", "strokeWidth": 6.5},
      "encoding": {
        "x": {"field": "t", "type": "quantitative", "title": "Time（s）", "scale": {"domain": [0, 1250], "nice": false}, "axis": {"values": [0, 200, 400, 600, 800, 1000, 1200]}},
        "y": {"field": "p", "type": "quantitative", "title": "Power (KW)", "scale": {"domain": [-40, 50], "nice": false}, "axis": {"values": [-40, -20, 0, 20, 40]}},
        "color": {
          "field": "s", "type": "nominal",
          "scale": {"domain": ["Fuel cell power", "Power of power battery"], "range": ["#00B050", "#FFC000"]},
          "legend": {
            "orient": "none", "legendX": 238, "legendY": 46, "title": null,
            "symbolType": "M-4,0H4", "symbolSize": 2500, "symbolStrokeWidth": 7,
            "labelFont": "Liberation Serif", "labelFontSize": 61, "labelColor": "black", "labelOffset": 98, "labelLimit": 0, "rowPadding": 34,
            "encode": {"symbols": {"update": {"fill": {"value": "transparent"}, "strokeCap": {"value": "round"}, "strokeDash": {"signal": "datum.value === 'Power of power battery' ? [4, 19] : [1, 0]"}, "strokeWidth": {"signal": "datum.value === 'Power of power battery' ? 8 : 7"}}}}
          }
        },
        "strokeDash": {"field": "s", "type": "nominal", "scale": {"domain": ["Fuel cell power", "Power of power battery"], "range": [[1, 0], [15, 7]]}}
      }
    },
    {
      "data": {"name": "b"},
      "width": 1461,
      "height": 822,
      "title": {"text": "(b)Double loop DP algorithm", "dx": 417},
      "mark": {"type": "line", "interpolate": "monotone", "strokeWidth": 6.5},
      "encoding": {
        "x": {"field": "t", "type": "quantitative", "title": "Time（s）", "scale": {"domain": [0, 1250], "nice": false}, "axis": {"values": [0, 200, 400, 600, 800, 1000, 1200]}},
        "y": {"field": "p", "type": "quantitative", "title": "Power (KW)", "scale": {"domain": [-40, 50], "nice": false}, "axis": {"values": [-40, -20, 0, 20, 40]}},
        "color": {
          "field": "s", "type": "nominal",
          "scale": {"domain": ["Fuel cell power", "Power of power battery"], "range": ["#00B050", "#FFC000"]},
          "legend": {
            "orient": "none", "legendX": 238, "legendY": 46, "title": null,
            "symbolType": "M-4,0H4", "symbolSize": 2500, "symbolStrokeWidth": 7,
            "labelFont": "Liberation Serif", "labelFontSize": 61, "labelColor": "black", "labelOffset": 98, "labelLimit": 0, "rowPadding": 34,
            "encode": {"symbols": {"update": {"fill": {"value": "transparent"}, "strokeCap": {"value": "round"}, "strokeDash": {"signal": "datum.value === 'Power of power battery' ? [4, 19] : [1, 0]"}, "strokeWidth": {"signal": "datum.value === 'Power of power battery' ? 8 : 7"}}}}
          }
        },
        "strokeDash": {"field": "s", "type": "nominal", "scale": {"domain": ["Fuel cell power", "Power of power battery"], "range": [[1, 0], [15, 7]]}}
      }
    }
  ],
  "resolve": {"legend": {"color": "independent", "strokeDash": "independent"}, "scale": {"color": "independent", "strokeDash": "independent"}},
  "config": {
    "view": {"stroke": null},
    "font": "Liberation Serif",
    "style": {"guide-label": {"font": "Liberation Serif"}, "guide-title": {"font": "Liberation Serif"}},
    "title": {"orient": "bottom", "anchor": "start", "frame": "group", "font": "Liberation Serif", "fontSize": 61, "fontWeight": "normal", "color": "black", "offset": 49},
    "axis": {
      "grid": false,
      "domainColor": "black",
      "domainWidth": 7,
      "tickColor": "black",
      "tickWidth": 4,
      "tickSize": -28,
      "labelFont": "Liberation Serif",
      "labelFontSize": 61,
      "labelColor": "black",
      "labelExpr": "'' + datum.value",
      "titleFont": "Liberation Serif",
      "titleFontSize": 61,
      "titleFontWeight": "normal",
      "titleColor": "black"
    },
    "axisX": {"labelPadding": 64, "titleX": 640, "titleY": 174, "titleAlign": "left", "titleBaseline": "alphabetic", "labelFlush": false},
    "axisY": {"labelPadding": 65, "titleX": -143, "titleY": 451, "labelBaseline": "middle"}
  }
}
